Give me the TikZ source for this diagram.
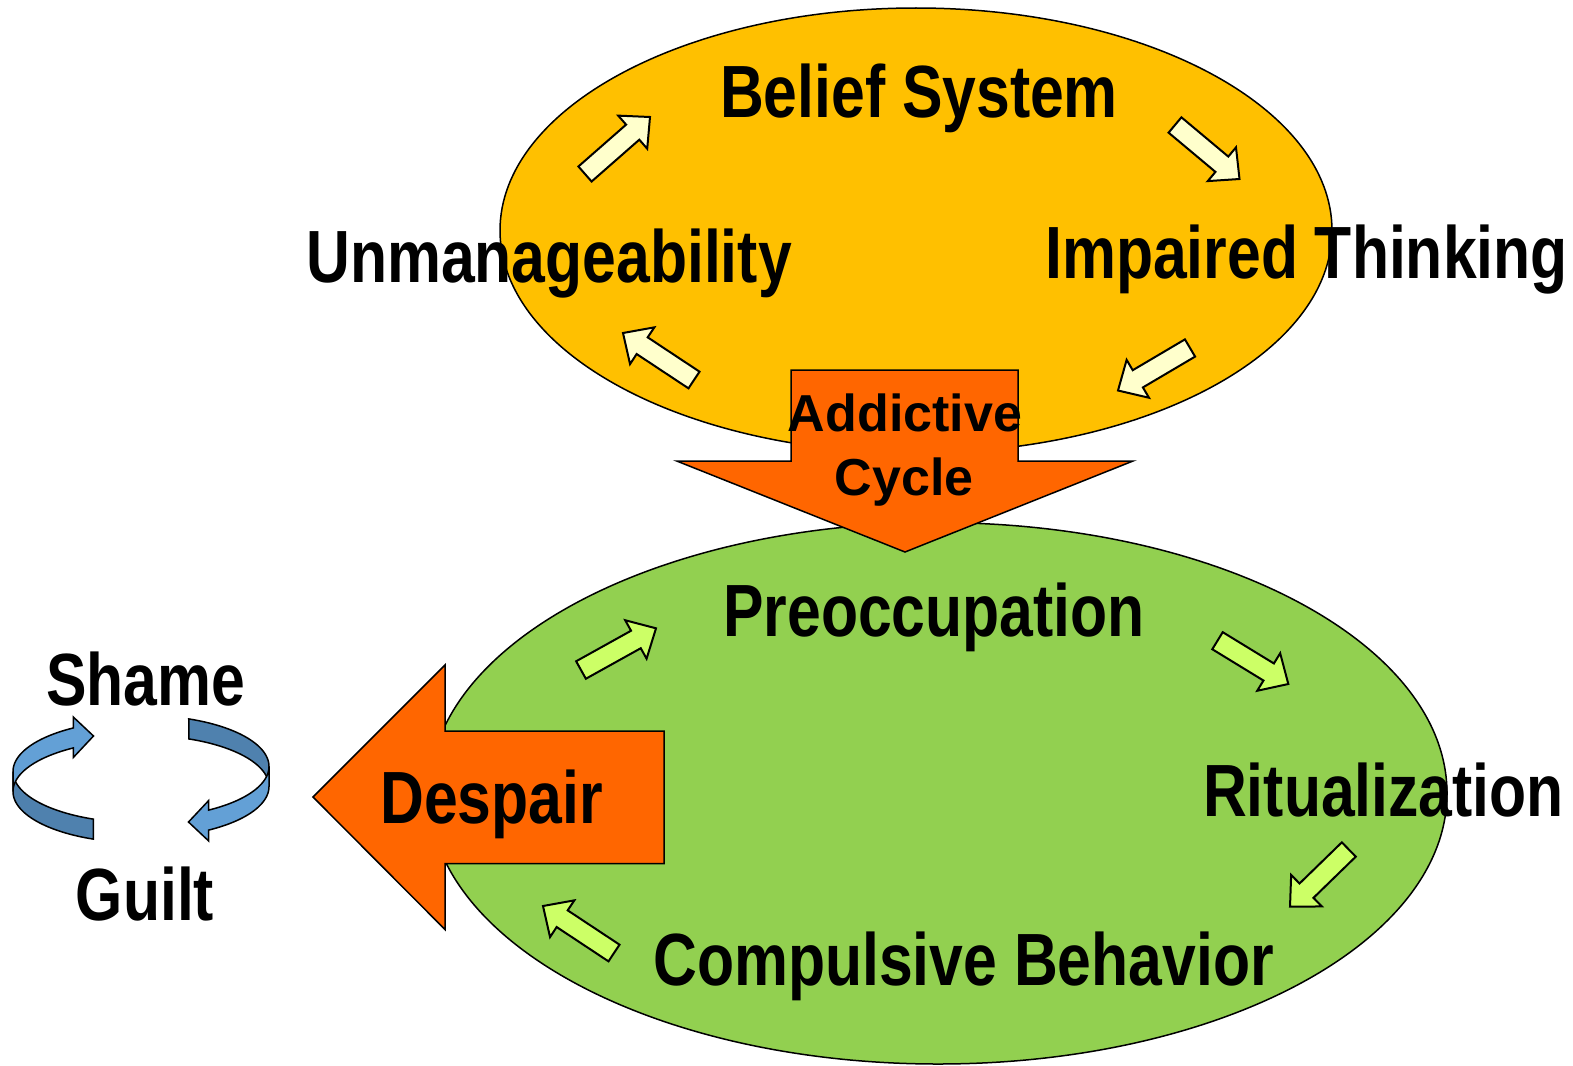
\documentclass[tikz,border=0pt]{standalone}
\usepackage{fontspec}
\setmainfont{Liberation Sans}
\newfontfamily\narrowfont[FakeStretch=0.82]{Liberation Sans}
\usetikzlibrary{calc,shapes.geometric}
\definecolor{ellorange}{HTML}{FFC000}
\definecolor{ellgreen}{HTML}{92D050}
\definecolor{bigorange}{HTML}{FF6600}
\definecolor{paleyellow}{HTML}{FFFFCC}
\definecolor{palegreen}{HTML}{CCFF66}
\definecolor{ribbonlight}{HTML}{63A0D6}
\definecolor{ribbondark}{HTML}{4F81AE}
\tikzset{
  ellshape/.style={draw=black, line width=1.5pt, ellipse, inner sep=0pt},
  bigarr/.style={draw=black, line width=1.5pt, fill=bigorange, line join=miter},
  smallarr/.style={draw=black, line width=2pt, line join=miter},
  ribbon/.style={draw=black, line width=1.5pt, line join=miter},
  lbl/.style={font=\narrowfont\bfseries\fontsize{74}{80}\selectfont, anchor=base, inner sep=0pt},
  cyclbl/.style={font=\bfseries\fontsize{52}{63}\selectfont, anchor=base, inner sep=0pt},
}
\newcommand\blockarrow[3]{%
  \coordinate (hb) at ($(#2)!23pt!(#1)$);
  \draw[smallarr, fill=#3] ($(#1)!10pt!90:(#2)$) -- ($(hb)!10pt!-90:(#1)$)
    -- ($(hb)!22pt!-90:(#1)$) -- (#2) -- ($(hb)!22pt!90:(#1)$)
    -- ($(hb)!10pt!90:(#1)$) -- ($(#1)!10pt!-90:(#2)$) -- cycle;
}
\newcommand\ribbonarrow{%
  \path[ribbon, fill=ribbondark]
    plot[domain=111.6:180, samples=40] ({140+127*cos(\x)},{771.5+51.2*sin(\x)})
    -- plot[domain=180:111.6, samples=40] ({140+127*cos(\x)},{791.5+51.2*sin(\x)})
    -- cycle;
  \path[ribbon, fill=ribbonlight]
    plot[domain=180:238.3, samples=40] ({140+127*cos(\x)},{771.5+51.2*sin(\x)})
    -- (73.3,717) -- (93.5,736) -- (73.3,757.5)
    -- plot[domain=238.3:180, samples=40] ({140+127*cos(\x)},{791.5+51.2*sin(\x)})
    -- cycle;
}
\begin{document}
\begin{tikzpicture}[x=1pt, y=-1pt]
\useasboundingbox (0,0) rectangle (1573,1065);
% ellipses
\node[ellshape, fill=ellorange, minimum width=832pt, minimum height=445pt] (topell) at (916,230.5) {};
\node[ellshape, fill=ellgreen, minimum width=1018pt, minimum height=541.4pt] (botell) at (938,793.3) {};
% big arrows
\draw[bigarr] (791,370) -- (1018,370) -- (1018,461) -- (1133,461) -- (905,552)
  -- (676.7,461) -- (791,461) -- cycle;
\draw[bigarr] (664,731) -- (664,863.5) -- (445,863.5) -- (445,929.5) -- (313,797)
  -- (445,665) -- (445,731) -- cycle;
% small arrows, top cycle
\coordinate (a1t) at (585,174);    \coordinate (a1h) at (650,117);
\coordinate (a2t) at (1175,125);   \coordinate (a2h) at (1239.5,179);
\coordinate (a3t) at (1190,348);   \coordinate (a3h) at (1118,390.5);
\coordinate (a4t) at (694,380);    \coordinate (a4h) at (623,333);
\blockarrow{a1t}{a1h}{paleyellow}
\blockarrow{a2t}{a2h}{paleyellow}
\blockarrow{a3t}{a3h}{paleyellow}
\blockarrow{a4t}{a4h}{paleyellow}
% small arrows, bottom cycle
\coordinate (b1t) at (581,670);     \coordinate (b1h) at (656,628.3);
\coordinate (b2t) at (1217.5,640.7);\coordinate (b2h) at (1288.3,684);
\coordinate (b3t) at (1348.8,849.5);\coordinate (b3h) at (1290,906.7);
\coordinate (b4t) at (614,953);     \coordinate (b4h) at (543,906);
\blockarrow{b1t}{b1h}{palegreen}
\blockarrow{b2t}{b2h}{palegreen}
\blockarrow{b3t}{b3h}{palegreen}
\blockarrow{b4t}{b4h}{palegreen}
% shame / guilt ribbon arrows
\ribbonarrow
\begin{scope}[rotate around={180:(141,779)}]
\ribbonarrow
\end{scope}
% labels
\node[lbl] (belief) at (919,117.5) {Belief System};
\node[lbl] (unman) at (549,282) {Unmanageability};
\node[lbl] (impair) at (1306.5,278) {Impaired Thinking};
\node[cyclbl] (addict) at (905,431.7) {Addictive};
\node[cyclbl] (cycle) at (904,495) {Cycle};
\node[lbl] (preocc) at (934,636) {Preoccupation};
\node[lbl] (ritual) at (1383.5,816) {Ritualization};
\node[lbl] (compul) at (963.5,985) {Compulsive Behavior};
\node[lbl] (despair) at (491.7,823) {Despair};
\node[lbl] (shame) at (145.5,705) {Shame};
\node[lbl] (guilt) at (145,920) {Guilt};
\end{tikzpicture}
\end{document}
